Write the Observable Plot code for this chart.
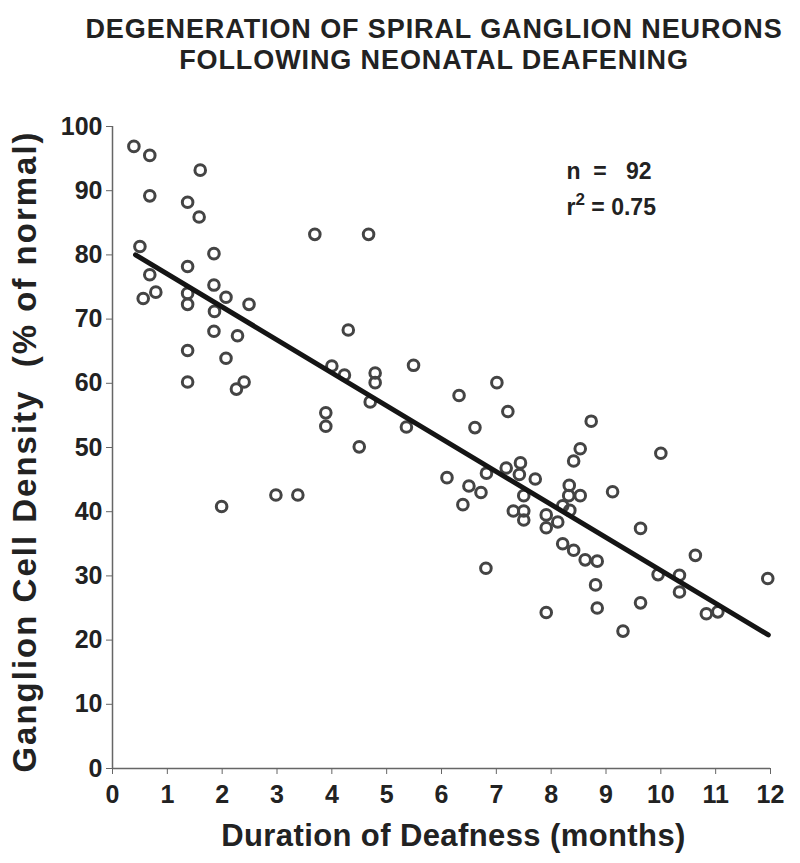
<!DOCTYPE html>
<html><head><meta charset="utf-8">
<script src="https://cdn.jsdelivr.net/npm/d3@7"></script>
<script src="https://cdn.jsdelivr.net/npm/@observablehq/plot@0.6"></script>
<style>
body{margin:0;background:#fff;font-family:"Liberation Sans",Arial,sans-serif;}
#title{width:800px;height:80px;box-sizing:border-box;padding-top:14px;padding-left:68px;text-align:center;font-weight:bold;font-size:27px;letter-spacing:0.9px;line-height:31px;color:#222;}
#chart svg text{white-space:pre;}
</style></head><body>
<div id="title">DEGENERATION OF SPIRAL GANGLION NEURONS<br>FOLLOWING NEONATAL DEAFENING</div>
<div id="chart"></div>
<script>
const months = [0.39,0.68,1.60,0.68,1.37,1.58,0.50,1.85,1.37,0.68,1.85,0.79,0.56,1.37,2.07,1.37,2.49,1.86,1.85,2.28,1.37,2.07,1.37,2.40,2.26,1.99,2.98,3.38,
3.69,4.67,4.30,4.00,4.23,4.79,4.79,5.49,4.70,6.32,3.89,3.89,5.36,7.01,7.21,8.73,6.61,8.53,8.41,6.10,6.82,7.18,7.44,7.42,7.71,6.50,6.72,8.33,10.00,7.50,8.32,8.53,9.12,7.31,7.50,7.50,7.91,8.21,8.34,7.91,8.12,9.63,8.21,8.41,8.62,8.84,8.81,6.81,7.91,8.84,9.63,9.31,9.95,10.63,10.34,10.34,11.95,10.83,11.04,4.50,6.39];
const density = [96.9,95.5,93.2,89.2,88.2,85.9,81.3,80.2,78.2,76.9,75.3,74.2,73.2,74.0,73.4,72.3,72.3,71.2,68.1,67.4,65.1,63.9,60.2,60.2,59.1,40.8,42.6,42.6,
83.2,83.2,68.3,62.7,61.3,61.6,60.1,62.8,57.1,58.1,55.4,53.3,53.2,60.1,55.6,54.1,53.1,49.8,47.9,45.3,46.0,46.8,47.6,45.8,45.1,44.0,43.0,44.1,49.1,42.5,42.5,42.5,43.1,40.1,40.1,38.7,39.5,40.9,40.2,37.5,38.4,37.4,35.0,34.0,32.5,32.3,28.6,31.2,24.3,25.0,25.8,21.4,30.2,33.2,30.1,27.5,29.6,24.1,24.4,50.1,41.1];
const fitMonths = [0.42, 11.96];
const fitDensity = [80.0, 20.8];
const xTicks = [0,1,2,3,4,5,6,7,8,9,10,11,12];
const yTicks = [0,10,20,30,40,50,60,70,80,90,100];
const statsLines = ["n  =   92", "r2 = 0.75"];
const statsY = [93.0, 87.4];

const points = months.map((m,i)=>({m, d: density[i]}));
const fit = fitMonths.map((m,i)=>({m, d: fitDensity[i]}));
const stats = statsLines.map((t,i)=>({t, y: statsY[i]}));

const chart = Plot.plot({
  width: 800, height: 783,
  marginLeft: 112, marginRight: 30, marginTop: 46, marginBottom: 95,
  style: {fontFamily: '"Liberation Sans", Arial, sans-serif', color: "#222", background: "#fff"},
  x: {domain: [0,12], ticks: xTicks},
  y: {domain: [0,100], ticks: yTicks},
  marks: [
    Plot.axisX({ticks: xTicks, tickSize: 6, tickPadding: 11, fontSize: 25, fontWeight: "bold", stroke: "#666", label: "Duration of Deafness (months)", labelAnchor: "center", labelOffset: 77, labelArrow: false}),
    Plot.axisY({ticks: yTicks, tickSize: 6, tickPadding: 4, fontSize: 25, fontWeight: "bold", stroke: "#666", label: "Ganglion Cell Density  (% of normal)", labelAnchor: "center", labelOffset: 100, labelArrow: false}),
    Plot.ruleY([0], {stroke: "#666", strokeWidth: 1.5}),
    Plot.ruleX([0], {stroke: "#666", strokeWidth: 1.5}),
    Plot.dot(points, {x: "m", y: "d", r: 5.3, stroke: "#444", strokeWidth: 3, fill: "none"}),
    Plot.line(fit, {x: "m", y: "d", stroke: "#151515", strokeWidth: 5}),
    Plot.text(stats, {x: () => 8.28, y: "y", text: "t", textAnchor: "start", fontSize: 23, fontWeight: "bold", fill: "#222"})
  ]
});
document.getElementById("chart").appendChild(chart);
chart.querySelectorAll('[aria-label="x-axis label"] text').forEach(t=>{
  t.style.fontSize = "31px"; t.style.fontWeight = "bold"; t.style.letterSpacing = "0.4px";
  t.setAttribute("dx", "12");
});
chart.querySelectorAll('[aria-label="y-axis label"] text').forEach(t=>{
  t.style.fontSize = "33px"; t.style.fontWeight = "bold"; t.style.letterSpacing = "2px";
  t.setAttribute("dx", "-4");
});
// render the exponent of r2 as a superscript
chart.querySelectorAll('[aria-label="text"] text').forEach(t=>{
  if (t.textContent.startsWith("r2")) {
    const rest = t.textContent.slice(2);
    t.textContent = "r";
    const ns = "http://www.w3.org/2000/svg";
    const sup = document.createElementNS(ns, "tspan");
    sup.setAttribute("dy", "-10"); sup.setAttribute("font-size", "17"); sup.textContent = "2";
    const tail = document.createElementNS(ns, "tspan");
    tail.setAttribute("dy", "10"); tail.textContent = rest;
    t.appendChild(sup); t.appendChild(tail);
  }
});
</script>
</body></html>
